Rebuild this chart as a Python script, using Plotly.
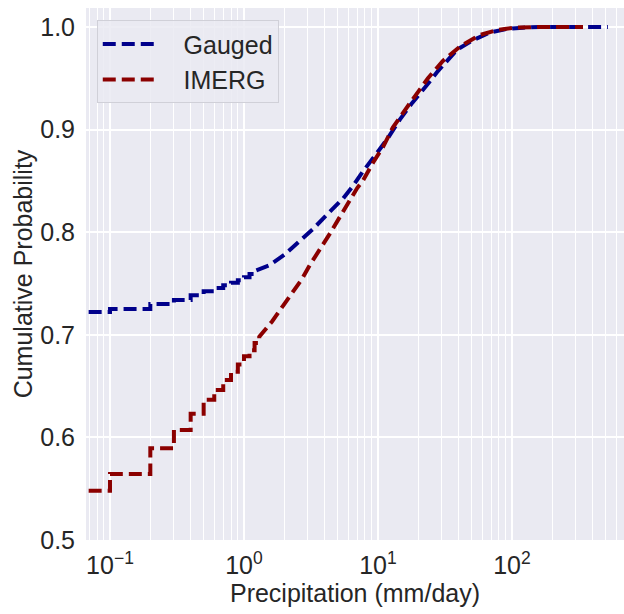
import plotly.graph_objects as go

# ---- data (precipitation in mm/day, cumulative probability) ----
# discrete low-end of the ECDFs (0.1 mm/day resolution -> steps)
gauged_step_x = [0.05, 0.1, 0.2, 0.3, 0.4, 0.5, 0.6, 0.7, 0.8, 0.9, 1.0, 1.1, 1.2]
gauged_step_p = [0.7221, 0.7251, 0.7300, 0.7338, 0.7385, 0.7425, 0.7455, 0.7482,
                 0.7507, 0.7532, 0.7560, 0.7592, 0.7622]
# continuous upper part
gauged_x = [1.56, 2.0, 2.6, 3.27, 4.38, 5.5, 6.5, 7.7, 9.8, 11.9, 14.6, 18, 22.4,
            28, 39, 51, 68, 91, 121, 160, 520]
gauged_p = [0.768, 0.778, 0.791, 0.803, 0.820, 0.833, 0.845, 0.859, 0.877, 0.892,
            0.910, 0.926, 0.941, 0.957, 0.978, 0.987, 0.9945, 0.998, 0.9993, 1.0, 1.0]

imerg_step_x = [0.05, 0.1, 0.2, 0.3, 0.4, 0.5, 0.6, 0.7, 0.8, 0.9, 1.0, 1.1, 1.2, 1.3]
imerg_step_p = [0.5480, 0.5644, 0.5895, 0.6073, 0.6230, 0.6366, 0.6463, 0.6560,
                0.6640, 0.6710, 0.6790, 0.6850, 0.6920, 0.6980]
imerg_x = [1.5, 1.62, 1.95, 2.28, 2.7, 3.1, 3.7, 4.4, 5.2, 6.0, 7.0, 7.7, 9.2, 10.9,
           12.9, 15.9, 19.6, 23.6, 30.5, 41, 57, 77, 105, 150, 339]
imerg_p = [0.708, 0.713, 0.728, 0.741, 0.754, 0.768, 0.783, 0.799, 0.815, 0.829,
           0.843, 0.850, 0.868, 0.883, 0.902, 0.919, 0.936, 0.950, 0.967, 0.981,
           0.992, 0.997, 0.9993, 1.0, 1.0]

series_names = ["Gauged", "IMERG"]
x_tick_vals = [0.1, 1, 10, 100]
x_tick_text = ["10<sup>−1</sup>", "10<sup>0</sup>", "10<sup>1</sup>", "10<sup>2</sup>"]
y_tick_vals = [0.5, 0.6, 0.7, 0.8, 0.9, 1.0]
y_tick_text = ["0.5", "0.6", "0.7", "0.8", "0.9", "1.0"]


def ecdf_path(step_x, step_p, cont_x, cont_p):
    X, Y = [step_x[0]], [step_p[0]]
    for x, p in zip(step_x[1:], step_p[1:]):
        X += [x, x]
        Y += [Y[-1], p]
    return X + list(cont_x), Y + list(cont_p)


gx, gy = ecdf_path(gauged_step_x, gauged_step_p, gauged_x, gauged_p)
ix, iy = ecdf_path(imerg_step_x, imerg_step_p, imerg_x, imerg_p)

FONT = "Liberation Sans, Arial, sans-serif"
DASH = "13px,6px"
FS = 25
PAD = "\u00a0\u00a0\u00a0"

fig = go.Figure()
fig.add_trace(go.Scatter(x=gx, y=gy, mode="lines", name=PAD + series_names[0],
                         line=dict(color="#00008B", width=4, dash=DASH)))
fig.add_trace(go.Scatter(x=ix, y=iy, mode="lines", name=PAD + series_names[1],
                         line=dict(color="#8B0000", width=4, dash=DASH)))

minor_vals = [k * 10.0 ** n for n in range(-2, 3) for k in range(2, 10)]

fig.update_layout(
    width=624, height=614,
    margin=dict(l=86, r=0, t=8, b=74),
    paper_bgcolor="white",
    plot_bgcolor="#EAEAF2",
    font=dict(family=FONT, size=FS, color="#262626"),
    legend=dict(x=0.02, y=0.977, xanchor="left", yanchor="top",
                bgcolor="rgba(234,234,242,0.85)", bordercolor="#d0d0d8",
                borderwidth=1, itemwidth=55,
                font=dict(size=FS, color="#262626")),
    showlegend=True,
)
fig.update_xaxes(
    type="log", range=[-1.179, 2.836],
    tickmode="array", tickvals=x_tick_vals, ticktext=x_tick_text,
    showgrid=True, gridcolor="white", gridwidth=1.6,
    minor=dict(tickmode="array", tickvals=minor_vals, showgrid=True,
               gridcolor="white", gridwidth=0.8),
    zeroline=False, showline=False, ticks="",
    ticklabelstandoff=8,
    title=dict(text="Precipitation (mm/day)", font=dict(size=FS), standoff=4),
    tickfont=dict(size=FS),
)
fig.update_yaxes(
    range=[0.5, 1.0185],
    tickmode="array", tickvals=y_tick_vals, ticktext=y_tick_text,
    showgrid=True, gridcolor="white", gridwidth=1.6,
    zeroline=False, showline=False, ticks="",
    ticklabelstandoff=10,
    title=dict(text="Cumulative Probability", font=dict(size=FS), standoff=0),
    tickfont=dict(size=FS),
)

fig.write_html("out.html")
